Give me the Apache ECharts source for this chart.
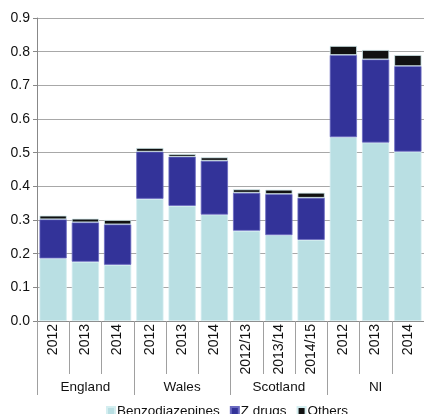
<!DOCTYPE html>
<html><head><meta charset="utf-8">
<script src="https://cdn.jsdelivr.net/npm/echarts@6/dist/echarts.min.js"></script>
<style>html,body{margin:0;padding:0;background:#fff}#c{width:424px;height:414px}</style>
</head><body><div id="c"></div>
<script>
var years = ['2012','2013','2014','2012','2013','2014','2012/13','2013/14','2014/15','2012','2013','2014'];
var groups = ['England','Wales','Scotland','NI'];
var benzodiazepines = [0.186,0.176,0.167,0.363,0.342,0.316,0.268,0.255,0.241,0.546,0.530,0.503];
var zDrugs = [0.116,0.117,0.120,0.140,0.146,0.160,0.113,0.122,0.125,0.244,0.247,0.254];
var others = [0.011,0.011,0.013,0.011,0.008,0.010,0.010,0.013,0.015,0.027,0.028,0.033];
var yTicks = ['0.0','0.1','0.2','0.3','0.4','0.5','0.6','0.7','0.8','0.9'];

var font = '"Liberation Sans", Arial, sans-serif';
var chart = echarts.init(document.getElementById('c'), null, {renderer:'canvas'});
var border = {borderColor:'#d4eef0', borderWidth:0.8};
chart.setOption({
  animation:false,
  textStyle:{fontFamily:font},
  grid:{left:37, right:-1, top:18, bottom:93},
  legend:{
    left:101, top:399, itemWidth:8, itemHeight:8, itemGap:10,
    textStyle:{fontSize:13.5, color:'#111', fontFamily:font, padding:[0,0,0,-3]},
    icon:'rect',
    data:['Benzodiazepines','Z drugs','Others']
  },
  xAxis:[{
    type:'category', data:years, position:'bottom',
    axisLine:{lineStyle:{color:'#888', width:1}},
    axisTick:{show:true, interval:0, length:53, lineStyle:{color:'#a0a0a0'}},
    axisLabel:{interval:0, rotate:90, fontSize:14, color:'#111', margin:3, fontFamily:font}
  },{
    type:'category', data:groups, position:'bottom', offset:53,
    axisLine:{show:false},
    axisTick:{show:true, interval:0, length:21, lineStyle:{color:'#a0a0a0'}},
    axisLabel:{interval:0, fontSize:13.5, color:'#111', margin:6, fontFamily:font}
  }],
  yAxis:{
    type:'value', min:0, max:0.9, interval:0.1,
    axisLine:{show:true, lineStyle:{color:'#888'}},
    axisTick:{show:true, length:4, lineStyle:{color:'#888'}},
    splitLine:{lineStyle:{color:'#a8a8a8', width:1}},
    axisLabel:{fontSize:14, color:'#111', margin:7, fontFamily:font,
      formatter:function(v){return yTicks[Math.round(v*10)];}}
  },
  series:[
    {name:'Benzodiazepines', type:'bar', stack:'s', data:benzodiazepines, barCategoryGap:'15.6%',
     itemStyle:Object.assign({color:'#b9dfe3'}, border)},
    {name:'Z drugs', type:'bar', stack:'s', data:zDrugs,
     itemStyle:{color:'#333399', borderColor:'#6a6ac0', borderWidth:0.8}},
    {name:'Others', type:'bar', stack:'s', data:others,
     itemStyle:Object.assign({color:'#111111'}, border)}
  ]
});
</script></body></html>
